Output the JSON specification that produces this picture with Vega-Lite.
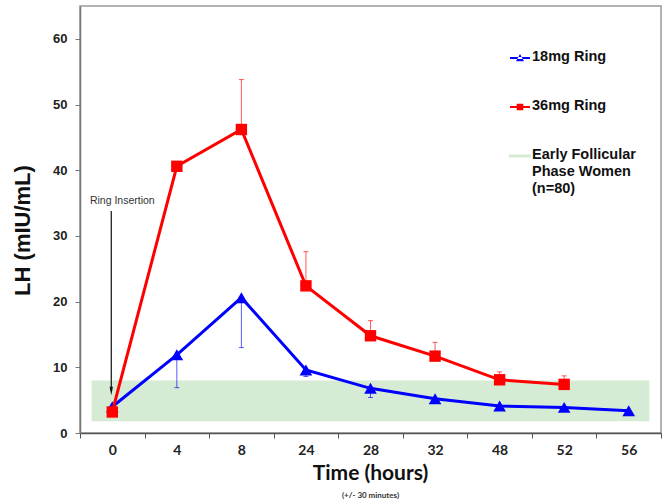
{
  "$schema": "https://vega.github.io/schema/vega-lite/v6.json",
  "width": 581,
  "height": 427,
  "autosize": "none",
  "padding": {"left": 80, "top": 6, "right": 8, "bottom": 70},
  "background": "white",
  "config": {
    "view": {"stroke": "#9a9a9a", "strokeWidth": 1.5},
    "font": "Liberation Sans"
  },
  "title": {
    "text": "Time (hours)",
    "subtitle": "(+/- 30 minutes)",
    "orient": "bottom",
    "anchor": "middle",
    "font": "Lato",
    "fontSize": 21,
    "fontWeight": "bold",
    "color": "#111",
    "subtitleFont": "Lato",
    "subtitleFontSize": 8,
    "subtitleFontWeight": "bold",
    "subtitleColor": "#333",
    "subtitlePadding": 8,
    "offset": 6
  },
  "datasets": {
    "lh": [
      {"series": "18mg Ring", "time": 0, "lh": 4.0, "err": 3.5},
      {"series": "18mg Ring", "time": 4, "lh": 11.9, "err": 6.9},
      {"series": "18mg Ring", "time": 8, "lh": 20.6, "err": 13.0},
      {"series": "18mg Ring", "time": 24, "lh": 9.6, "err": 8.6},
      {"series": "18mg Ring", "time": 28, "lh": 6.8, "err": 5.4},
      {"series": "18mg Ring", "time": 32, "lh": 5.2, "err": null},
      {"series": "18mg Ring", "time": 48, "lh": 4.1, "err": null},
      {"series": "18mg Ring", "time": 52, "lh": 3.9, "err": null},
      {"series": "18mg Ring", "time": 56, "lh": 3.4, "err": null},
      {"series": "36mg Ring", "time": 0, "lh": 3.2, "err": null},
      {"series": "36mg Ring", "time": 4, "lh": 40.6, "err": null},
      {"series": "36mg Ring", "time": 8, "lh": 46.2, "err": 53.8},
      {"series": "36mg Ring", "time": 24, "lh": 22.4, "err": 27.6},
      {"series": "36mg Ring", "time": 28, "lh": 14.8, "err": 17.1},
      {"series": "36mg Ring", "time": 32, "lh": 11.7, "err": 13.8},
      {"series": "36mg Ring", "time": 48, "lh": 8.1, "err": 9.3},
      {"series": "36mg Ring", "time": 52, "lh": 7.4, "err": 8.7}
    ],
    "band": [
      {"series": "Early Follicular|Phase Women|(n=80)", "x1": 0.18, "x2": 8.82, "lo": 1.8, "hi": 8.0}
    ],
    "note": [
      {"time": 0, "label": "Ring Insertion", "ytext": 35.3, "ytop": 33.8, "ytip": 6.4}
    ]
  },
  "resolve": {"scale": {"x": "independent"}},
  "layer": [
    {
      "data": {"name": "band"},
      "mark": {"type": "rect"},
      "encoding": {
        "x": {"field": "x1", "type": "quantitative", "scale": {"domain": [0, 9], "nice": false, "zero": false}, "axis": null},
        "x2": {"field": "x2"},
        "y": {
          "field": "lo", "type": "quantitative",
          "scale": {"domain": [0, 65], "nice": false, "zero": true},
          "axis": {
            "values": [0, 10, 20, 30, 40, 50, 60],
            "title": "LH (mIU/mL)",
            "titleFont": "Liberation Sans",
            "titleFontSize": 22,
            "titleFontWeight": "bold",
            "titleColor": "#111",
            "titlePadding": 18,
            "titleY": 224,
            "labelFont": "Liberation Sans",
            "labelFontSize": 13,
            "labelFontWeight": "bold",
            "labelColor": "#222",
            "labelPadding": 8,
            "tickSize": 5,
            "tickColor": "#777",
            "domainColor": "#777",
            "domainWidth": 1.5,
            "grid": false
          }
        },
        "y2": {"field": "hi"},
        "color": {
          "field": "series", "type": "nominal",
          "scale": {
            "domain": ["18mg Ring", "36mg Ring", "Early Follicular|Phase Women|(n=80)"],
            "range": ["#0000ff", "#ff0000", "#d6ebd3"]
          },
          "legend": {
            "orient": "none",
            "legendX": 430,
            "legendY": 42,
            "title": null,
            "symbolSize": 400,
            "symbolStrokeWidth": 0,
            "symbolOpacity": 1,
            "labelFont": "Liberation Sans",
            "labelFontSize": 14.5,
            "labelFontWeight": "bold",
            "labelColor": "#111",
            "labelOffset": 2,
            "rowPadding": 33,
            "labelLimit": 300,
            "labelExpr": "split(datum.label, '|')",
            "labelBaseline": "top",
            "encode": {
              "labels": {"update": {"dy": {"value": -8}, "lineHeight": {"value": 17}}},
              "symbols": {
                "update": {
                  "shape": {"signal": "datum.value == '18mg Ring' ? 'M-1,-0.1H1V0.1H-1Z M-0.4,0.32L0.4,0.32L0,-0.4Z' : datum.value == '36mg Ring' ? 'M-1,-0.1H1V0.1H-1Z M-0.33,-0.33H0.33V0.33H-0.33Z' : 'M-1.1,-0.15H1.1V0.15H-1.1Z'"},
                  "fill": {"scale": "color", "field": "value"},
                  "stroke": {"value": "transparent"},
                  "opacity": {"value": 1}
                }
              }
            }
          }
        }
      }
    },
    {
      "data": {"name": "lh"},
      "encoding": {
        "x": {
          "field": "time", "type": "ordinal",
          "scale": {"domain": [0, 4, 8, 24, 28, 32, 48, 52, 56], "paddingInner": 0, "paddingOuter": 0},
          "axis": {
            "title": null,
            "labelAngle": 0,
            "labelFont": "Lato",
            "labelFontSize": 14,
            "labelFontWeight": "bold",
            "labelColor": "#222",
            "labelPadding": 5,
            "tickBand": "extent",
            "tickSize": 5,
            "tickColor": "#555",
            "domainColor": "#555",
            "domainWidth": 1.5,
            "grid": false
          }
        }
      },
      "layer": [
        {
          "transform": [{"filter": "datum.err != null"}],
          "mark": {"type": "rule", "strokeWidth": 1, "opacity": 0.65},
          "encoding": {
            "y": {"field": "lh", "type": "quantitative"},
            "y2": {"field": "err"},
            "color": {"field": "series", "type": "nominal", "legend": null}
          }
        },
        {
          "transform": [{"filter": "datum.err != null"}],
          "mark": {"type": "tick", "thickness": 1, "size": 5, "opacity": 0.65},
          "encoding": {
            "y": {"field": "err", "type": "quantitative"},
            "color": {"field": "series", "type": "nominal", "legend": null}
          }
        },
        {
          "transform": [{"filter": "datum.series == '18mg Ring'"}],
          "layer": [
            {
              "mark": {"type": "line", "strokeWidth": 3},
              "encoding": {
                "y": {"field": "lh", "type": "quantitative"},
                "color": {"field": "series", "type": "nominal"}
              }
            },
            {
              "mark": {"type": "point", "filled": true, "opacity": 1, "shape": "triangle-up", "size": 160},
              "encoding": {
                "y": {"field": "lh", "type": "quantitative"},
                "color": {"field": "series", "type": "nominal"}
              }
            }
          ]
        },
        {
          "transform": [{"filter": "datum.series == '36mg Ring'"}],
          "layer": [
            {
              "mark": {"type": "line", "strokeWidth": 3},
              "encoding": {
                "y": {"field": "lh", "type": "quantitative"},
                "color": {"field": "series", "type": "nominal"}
              }
            },
            {
              "mark": {"type": "point", "filled": true, "opacity": 1, "shape": "square", "size": 130},
              "encoding": {
                "y": {"field": "lh", "type": "quantitative"},
                "color": {"field": "series", "type": "nominal"}
              }
            }
          ]
        },
        {
          "data": {"name": "note"},
          "layer": [
            {
              "mark": {"type": "rule", "color": "#111", "strokeWidth": 1.2, "xOffset": -1},
              "encoding": {
                "y": {"field": "ytop", "type": "quantitative"},
                "y2": {"field": "ytip"}
              }
            },
            {
              "mark": {"type": "point", "filled": true, "color": "#111", "opacity": 1, "shape": "M-0.4,-1L0.4,-1L0,1Z", "size": 70, "xOffset": -1},
              "encoding": {
                "y": {"field": "ytip", "type": "quantitative"}
              }
            },
            {
              "mark": {"type": "text", "font": "Liberation Sans", "fontSize": 10.5, "color": "#333", "dx": 10},
              "encoding": {
                "y": {"field": "ytext", "type": "quantitative"},
                "text": {"field": "label"}
              }
            }
          ]
        }
      ]
    }
  ]
}
